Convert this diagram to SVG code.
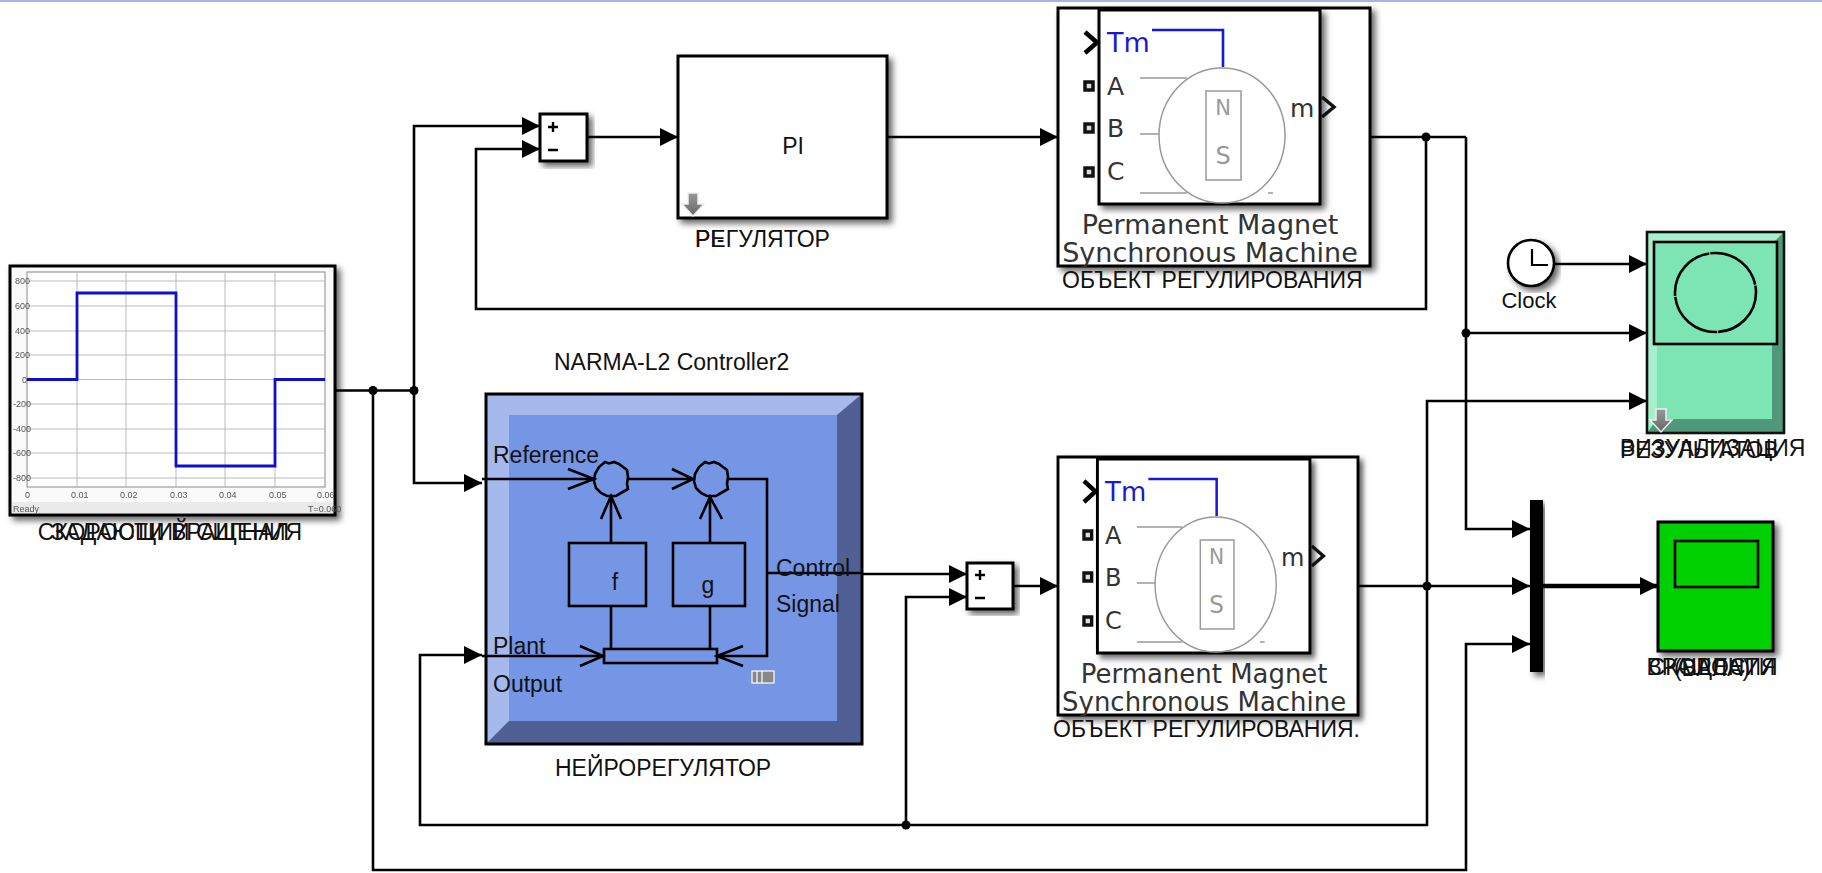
<svg xmlns="http://www.w3.org/2000/svg" width="1822" height="873" viewBox="0 0 1822 873">
<style>
text{font-family:"Liberation Sans",Arial,sans-serif;fill:#111}
.lb{font-size:23px}
.mach{font-family:"DejaVu Sans",sans-serif;fill:#333;font-size:27px}
.port{font-family:"DejaVu Sans",sans-serif;fill:#333;font-size:25px}
.w{fill:none;stroke:#000;stroke-width:2.6}
.a{marker-end:url(#arr)}
.blk{fill:#fff;stroke:#000;stroke-width:3;filter:url(#sh)}
.thin{fill:none;stroke:#999;stroke-width:1.5}
.in{fill:none;stroke:#000;stroke-width:2.6}
.grid{stroke:#bbb;stroke-width:1}
.tk{font-size:9px;fill:#555}
.dot{fill:#000}
.ns{fill:#999;font-family:"DejaVu Sans",sans-serif}
.tm{fill:#1818d8;font-family:"DejaVu Sans",sans-serif;font-size:27px}
.sq{fill:#ddd;stroke:#111;stroke-width:3.5}
</style>
<defs>
<marker id="arr" markerUnits="userSpaceOnUse" markerWidth="19" markerHeight="20" refX="18" refY="9.5" orient="auto"><path d="M0,0.5 L18,9.5 L0,18.5 Z" fill="#000"/></marker>
<filter id="sh" x="-10%" y="-10%" width="125%" height="125%"><feDropShadow dx="4" dy="4" stdDeviation="3" flood-color="#000" flood-opacity="0.6"/></filter>
<filter id="bl" x="-2%" y="-2%" width="104%" height="104%"><feGaussianBlur stdDeviation="0.6"/></filter>
<linearGradient id="gr" x1="0" y1="0" x2="0" y2="1"><stop offset="0" stop-color="#999"/><stop offset="1" stop-color="#666"/></linearGradient>
<path id="dn" d="M-5,0 H5 V11 H11 L0,23 L-11,11 H-5 Z" fill="url(#gr)" stroke="#eee" stroke-width="1.5"/>
<polygon id="bump" points="-6,-17 -2,-15.5 3,-17 8,-15 12,-12 16,-9 17,-2 16,5 17,10 10,14 5,17 -4,17 -10,14 -15,9 -17,2 -16,-5 -12,-12" fill="none" stroke="#000" stroke-width="2.6"/>
</defs>
<rect x="0" y="0" width="1822" height="2" fill="#a9b4e0"/>

<g id="connectors">
<path class="w" d="M335,390.5 H414"/>
<path class="w a" d="M414,390.5 V126 H540"/>
<path class="w a" d="M414,390.5 V483 H482"/>
<path class="w a" d="M373,390.5 V870 H1466 V644 H1530"/>
<path class="w a" d="M1426,137 V309 H476 V149 H540"/>
<path class="w a" d="M587,137 H678"/>
<path class="w a" d="M887,137 H1058"/>
<path class="w" d="M1370,137 H1466"/>
<path class="w a" d="M1466,137 V529 H1530"/>
<path class="w a" d="M1466,333 H1647"/>
<path class="w a" d="M1554,264 H1647"/>
<path class="w a" d="M1358,586 H1530"/>
<path class="w a" d="M1427,586 V401 H1647"/>
<path class="w a" d="M1427,586 V825 H420 V655 H482"/>
<path class="w a" d="M906,825 V597 H967"/>
<path class="w a" d="M768,574 H967"/>
<path class="w a" d="M1013,586 H1058"/>
<path d="M1543,586 H1658" fill="none" stroke="#000" stroke-width="4.5" class="a"/>
<circle class="dot" cx="373" cy="390.5" r="4.5"/>
<circle class="dot" cx="414" cy="390.5" r="4.5"/>
<circle class="dot" cx="1426" cy="137" r="4.5"/>
<circle class="dot" cx="1466" cy="333" r="4.5"/>
<circle class="dot" cx="1427" cy="586" r="4.5"/>
<circle class="dot" cx="906" cy="825" r="4.5"/>
</g>

<g id="source">
<rect class="blk" x="10" y="266" width="325" height="249"/>
<g filter="url(#bl)">
<rect x="12" y="268" width="321" height="245" fill="#fafafa"/>
<rect x="27" y="272" width="298" height="215" fill="#fff" stroke="#888"/>
<path class="grid" d="M77,272V487M126,272V487M176,272V487M225,272V487M275,272V487M27,281H325M27,306H325M27,331H325M27,355H325M27,404H325M27,429H325M27,453H325M27,478H325M27,379.5H325"/>
<rect x="12" y="502" width="321" height="11" fill="#eaeaea"/>
<g class="tk">
<text class="tk" x="15" y="284">800</text><text class="tk" x="15" y="309">600</text><text class="tk" x="15" y="334">400</text><text class="tk" x="15" y="358">200</text><text class="tk" x="22" y="383">0</text><text class="tk" x="13" y="407">-200</text><text class="tk" x="13" y="432">-400</text><text class="tk" x="13" y="456">-600</text><text class="tk" x="13" y="481">-800</text>
<text class="tk" x="25" y="498">0</text><text class="tk" x="71" y="498">0.01</text><text class="tk" x="120" y="498">0.02</text><text class="tk" x="170" y="498">0.03</text><text class="tk" x="219" y="498">0.04</text><text class="tk" x="269" y="498">0.05</text><text class="tk" x="317" y="498">0.06</text>
<text class="tk" x="13" y="512">Ready</text><text class="tk" x="308" y="512">T=0.060</text>
</g>
</g>
<path d="M27,379.5H77V293H176V466H275V379.5H325" fill="none" stroke="#1010c8" stroke-width="2.8"/>
<text class="lb" x="170" y="540" text-anchor="middle">ЗАДАЮЩИЙ СИГНАЛ</text>
<text class="lb" x="170" y="540" text-anchor="middle">СКОРОСТИ ВРАЩЕНИЯ</text>
</g>

<g id="sum1">
<rect class="blk" x="540" y="114" width="47" height="47"/>
<path d="M548,127H558M553,122V132M548,150H558" stroke="#000" stroke-width="2.4" fill="none"/>
</g>

<g id="pi">
<rect class="blk" x="678" y="56" width="209" height="162"/>
<text class="lb" x="793" y="154" text-anchor="middle">PI</text>
<use href="#dn" x="693" y="193"/>
<text class="lb" x="695" y="247">PI-</text>
<text class="lb" x="695" y="247">РЕГУЛЯТОР</text>
</g>

<g id="machine1">
<rect class="blk" x="1058" y="8" width="312" height="258"/>
<rect class="blk" x="1099" y="10" width="221" height="194"/>
<path class="thin" d="M1140,78H1187M1140,134H1159M1140,193H1187M1268,193H1273"/>
<ellipse class="thin" cx="1222" cy="135.5" rx="63" ry="67.5"/>
<rect class="thin" x="1206" y="91" width="35" height="89"/>
<text class="ns" x="1223" y="115" font-size="21" text-anchor="middle">N</text>
<text class="ns" x="1223" y="164" font-size="24" text-anchor="middle">S</text>
<path d="M1152,30H1223V67" fill="none" stroke="#1818d8" stroke-width="2.6"/>
<text class="tm" x="1107" y="52">Tm</text>
<text class="port" x="1107" y="95">A</text>
<text class="port" x="1107" y="137">B</text>
<text class="port" x="1107" y="180">C</text>
<text class="port" x="1290" y="117">m</text>
<path d="M1085,32L1097,42.5L1085,53" fill="none" stroke="#000" stroke-width="4.5"/>
<path d="M1322,97L1334,107L1322,117" fill="none" stroke="#111" stroke-width="3.5"/>
<rect class="sq" x="1085" y="82" width="8" height="8"/>
<rect class="sq" x="1085" y="124" width="8" height="8"/>
<rect class="sq" x="1085" y="168" width="8" height="8"/>
<text class="mach" x="1210" y="234" text-anchor="middle">Permanent Magnet</text>
<text class="mach" x="1210" y="262" text-anchor="middle">Synchronous Machine</text>
<text class="lb" x="1062" y="288">ОБЪЕКТ РЕГУЛИРОВАНИЯ</text>
</g>

<text class="lb" x="554" y="370" id="narma-title">NARMA-L2 Controller2</text>

<g id="neuro">
<rect x="486" y="394" width="376" height="350" fill="#7596e4"/>
<path d="M486,394H862L837,415H509V721L486,744Z" fill="#a6b9ed"/>
<path d="M862,394V744H486L509,721H837V415Z" fill="#506095"/>
<rect x="486" y="394" width="376" height="350" fill="none" stroke="#000" stroke-width="3"/>
<path class="in" d="M482,479H594M568,469L594,479L568,489"/>
<use href="#bump" x="611" y="479"/>
<path class="in" d="M628,479H693M672,469L693,479L672,489"/>
<use href="#bump" x="711" y="479"/>
<path class="in" d="M729,479H767V656H717M743,646L717,656L743,666"/>
<path class="in" d="M482,656H603M580,646L603,656L580,666"/>
<rect class="in" x="604" y="649" width="113" height="14"/>
<rect class="in" x="569" y="543" width="77" height="63"/>
<rect class="in" x="673" y="543" width="72" height="63"/>
<path class="in" d="M611,649V606M611,543V496M601,519L611,496L621,519"/>
<path class="in" d="M710,649V606M710,543V497M700,519L710,497L722,519"/>
<path class="in" d="M767,573H862"/>
<rect x="752" y="671" width="22" height="12" fill="#888" stroke="#fff" stroke-width="1.2"/>
<path d="M757,671V683M762,671V683" stroke="#fff" stroke-width="1.2"/>
<text class="lb" x="493" y="463">Reference</text>
<text class="lb" x="493" y="654">Plant</text>
<text class="lb" x="493" y="692">Output</text>
<text class="lb" x="776" y="576">Control</text>
<text class="lb" x="776" y="612">Signal</text>
<text class="lb" x="615" y="590" text-anchor="middle">f</text>
<text class="lb" x="708" y="593" text-anchor="middle">g</text>
<text class="lb" x="555" y="776">НЕЙРОРЕГУЛЯТОР</text>
</g>

<g id="sum2">
<rect class="blk" x="967" y="563" width="46" height="46"/>
<path d="M975,575H985M980,570V580M975,598H985" stroke="#000" stroke-width="2.4" fill="none"/>
</g>

<g id="machine2">
<g transform="matrix(.9615 0 0 1 40.73 449)">
<rect class="blk" x="1058" y="8" width="312" height="258"/>
<rect class="blk" x="1099" y="10" width="221" height="194"/>
<path class="thin" d="M1140,78H1187M1140,134H1159M1140,193H1187M1268,193H1273"/>
<ellipse class="thin" cx="1222" cy="135.5" rx="63" ry="67.5"/>
<rect class="thin" x="1206" y="91" width="35" height="89"/>
<text class="ns" x="1223" y="115" font-size="21" text-anchor="middle">N</text>
<text class="ns" x="1223" y="164" font-size="24" text-anchor="middle">S</text>
<path d="M1152,30H1223V67" fill="none" stroke="#1818d8" stroke-width="2.6"/>
<text class="tm" x="1107" y="52">Tm</text>
<text class="port" x="1107" y="95">A</text>
<text class="port" x="1107" y="137">B</text>
<text class="port" x="1107" y="180">C</text>
<text class="port" x="1290" y="117">m</text>
<path d="M1085,32L1097,42.5L1085,53" fill="none" stroke="#000" stroke-width="4.5"/>
<path d="M1322,97L1334,107L1322,117" fill="none" stroke="#111" stroke-width="3.5"/>
<rect class="sq" x="1085" y="82" width="8" height="8"/>
<rect class="sq" x="1085" y="124" width="8" height="8"/>
<rect class="sq" x="1085" y="168" width="8" height="8"/>
<text class="mach" x="1210" y="234" text-anchor="middle">Permanent Magnet</text>
<text class="mach" x="1210" y="262" text-anchor="middle">Synchronous Machine</text>
</g>
<text class="lb" x="1053" y="737">ОБЪЕКТ РЕГУЛИРОВАНИЯ.</text>
</g>

<g id="clock">
<circle cx="1531" cy="263" r="23" fill="#fff" stroke="#000" stroke-width="2.6" filter="url(#sh)"/>
<path d="M1532,249V265H1548" fill="none" stroke="#000" stroke-width="2.2"/>
<text x="1529" y="308" font-size="22" text-anchor="middle">Clock</text>
</g>

<g id="results">
<rect x="1647" y="232" width="137" height="201" fill="#7de5b3"/>
<path d="M1647,232H1784L1772,244H1657V419L1647,433Z" fill="#a6efcc"/>
<path d="M1784,232V433H1647L1657,419H1772V244Z" fill="#4f997a"/>
<rect x="1647" y="232" width="137" height="201" fill="none" stroke="#111" stroke-width="2.6"/>
<rect x="1654" y="242" width="123" height="102" fill="#7de5b3" stroke="#000" stroke-width="2.6"/>
<ellipse cx="1715.5" cy="292.5" rx="40.5" ry="39.5" fill="none" stroke="#000" stroke-width="2.6" stroke-dasharray="60 1"/>
<use href="#dn" x="1661" y="409"/>
<text class="lb" x="1620" y="456">ВИЗУАЛИЗАЦИЯ</text>
<text class="lb" x="1620" y="458">РЕЗУЛЬТАТОВ</text>
</g>

<g id="mux">
<rect x="1530" y="500" width="13" height="172" fill="#000" filter="url(#sh)"/>
</g>

<g id="scope">
<rect x="1658" y="522" width="115" height="129" fill="#00d000" stroke="#000" stroke-width="3" filter="url(#sh)"/>
<rect x="1675" y="541" width="83" height="46" fill="#00d000" stroke="#000" stroke-width="2.6"/>
<text class="lb" x="1712" y="675" text-anchor="middle">СКОРОСТИ</text>
<text class="lb" x="1712" y="675" text-anchor="middle">ВРАЩЕНИЯ</text>
<text class="lb" x="1712" y="676" text-anchor="middle">(ВАЛА)</text>
</g>
</svg>
